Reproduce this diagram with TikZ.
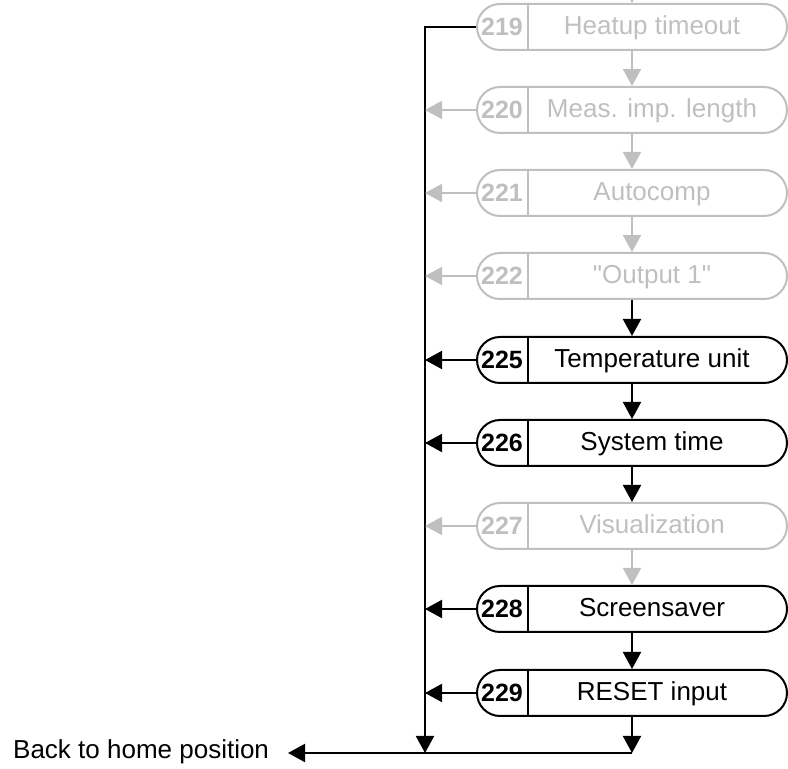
\documentclass[tikz,border=0pt]{standalone}
\usepackage{fontspec}
\setmainfont{Liberation Sans}[Ligatures=TeXOff]
\usetikzlibrary{shapes.misc,arrows.meta,calc}
\definecolor{offgray}{RGB}{191,191,191}

\begin{document}
\begin{tikzpicture}[x=0.5pt,y=-0.5pt,line width=1pt,>={Triangle[width=9pt,length=8.5pt]},
	menu/.style={draw,rounded rectangle,minimum width=155pt,minimum height=23pt,inner sep=0pt},
	num/.style={font=\bfseries\fontsize{12.5}{15}\selectfont,minimum width=25pt,inner sep=0pt,anchor=base},
	txt/.style={font=\fontsize{13}{15}\selectfont,inner sep=0pt,anchor=base},
	off/.style={offgray}]
	\useasboundingbox (0,0) rectangle (788,769);

	% menu items
	\node[menu,off] (b219) at (632,27) {};
	\node[num,off] (n219) at (502,36) {219};
	\node[txt,off] (t219) at (652,35) {Heatup timeout};
	\node[menu,off] (b220) at (632,110) {};
	\node[num,off] (n220) at (502,119) {220};
	\node[txt,off] (t220) at (652,118) {Meas. imp. length};
	\node[menu,off] (b221) at (632,193) {};
	\node[num,off] (n221) at (502,202) {221};
	\node[txt,off] (t221) at (652,201) {Autocomp};
	\node[menu,off] (b222) at (632,276) {};
	\node[num,off] (n222) at (502,285) {222};
	\node[txt,off] (t222) at (652,284) {"Output 1"};
	\node[menu] (b225) at (632,360) {};
	\node[num] (n225) at (502,369) {225};
	\node[txt] (t225) at (652,368) {Temperature unit};
	\node[menu] (b226) at (632,443) {};
	\node[num] (n226) at (502,452) {226};
	\node[txt] (t226) at (652,451) {System time};
	\node[menu,off] (b227) at (632,526) {};
	\node[num,off] (n227) at (502,535) {227};
	\node[txt,off] (t227) at (652,534) {Visualization};
	\node[menu] (b228) at (632,609) {};
	\node[num] (n228) at (502,618) {228};
	\node[txt] (t228) at (652,617) {Screensaver};
	\node[menu] (b229) at (632,693) {};
	\node[num] (n229) at (502,702) {229};
	\node[txt] (t229) at (652,701) {RESET input};

	\node[txt,anchor=base east,inner xsep=9pt] (home) at (288,759) {Back to home position};

	% dividers
	\draw[off] (n219.east |- b219.north) -- (n219.east |- b219.south);
	\draw[off] (n220.east |- b220.north) -- (n220.east |- b220.south);
	\draw[off] (n221.east |- b221.north) -- (n221.east |- b221.south);
	\draw[off] (n222.east |- b222.north) -- (n222.east |- b222.south);
	\draw (n225.east |- b225.north) -- (n225.east |- b225.south);
	\draw (n226.east |- b226.north) -- (n226.east |- b226.south);
	\draw[off] (n227.east |- b227.north) -- (n227.east |- b227.south);
	\draw (n228.east |- b228.north) -- (n228.east |- b228.south);
	\draw (n229.east |- b229.north) -- (n229.east |- b229.south);

	\coordinate (in) at (632,-30);
	\coordinate (c219) at (425,27);
	\coordinate (k) at (425,753);
	\coordinate (j) at (632,753);

	% main flow
	\draw[->,off] (in) -- (b219);
	\draw[->,off] (b219) -- (b220);
	\draw[->,off] (b220) -- (b221);
	\draw[->,off] (b221) -- (b222);
	\draw[->] (b222) -- (b225);
	\draw[->] (b225) -- (b226);
	\draw[->] (b226) -- (b227);
	\draw[->,off] (b227) -- (b228);
	\draw[->] (b228) -- (b229);
	\draw[->] (b229) -- (j);

	% way back
	\draw[->] (b219.west) -- (c219) -- (k);
	\draw[->,off] (b220.west) -- (b220.west -| c219);
	\draw[->,off] (b221.west) -- (b221.west -| c219);
	\draw[->,off] (b222.west) -- (b222.west -| c219);
	\draw[->] (b225.west) -- (b225.west -| c219);
	\draw[->] (b226.west) -- (b226.west -| c219);
	\draw[->,off] (b227.west) -- (b227.west -| c219);
	\draw[->] (b228.west) -- (b228.west -| c219);
	\draw[->] (b229.west) -- (b229.west -| c219);
	\draw[->] (j) -- (home.east |- j);
\end{tikzpicture}
\end{document}
